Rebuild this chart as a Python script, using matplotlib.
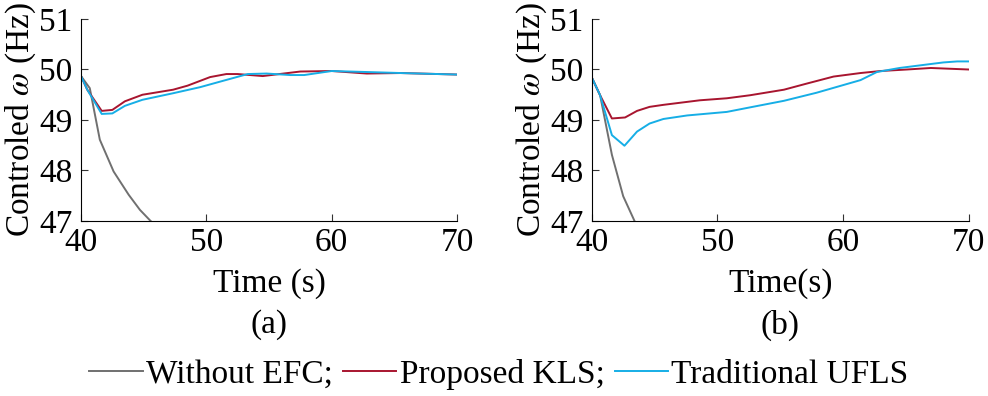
import numpy as np
import matplotlib.pyplot as plt

plt.rcParams["font.family"] = ["Liberation Serif", "DejaVu Serif"]
plt.rcParams["mathtext.fontset"] = "stix"

# panel (a)
t_none_a = [40.0, 40.7, 41.5, 42.6, 43.8, 44.7, 45.55, 46.5]
f_none_a = [49.87, 49.63, 48.61, 47.98, 47.52, 47.22, 47.0, 46.8]
t_kls_a = [40.0, 40.5, 41.65, 42.5, 43.5, 44.9, 47.35, 48.5, 50.3, 51.6, 52.5,
           54.5, 57.5, 60.0, 62.8, 65.5, 70.0]
f_kls_a = [49.87, 49.6, 49.18, 49.2, 49.37, 49.5, 49.6, 49.68, 49.85, 49.91, 49.91,
           49.87, 49.96, 49.97, 49.92, 49.93, 49.90]
t_ufls_a = [40.0, 40.5, 41.65, 42.5, 43.5, 44.9, 47.35, 49.5, 51.1, 53.3, 54.8,
            56.7, 57.8, 60.0, 62.8, 65.5, 70.0]
f_ufls_a = [49.87, 49.6, 49.12, 49.13, 49.28, 49.4, 49.53, 49.65, 49.76, 49.91, 49.92,
            49.89, 49.89, 49.97, 49.95, 49.93, 49.90]

# panel (b)
t_none_b = [40.0, 40.66, 41.6, 42.5, 43.4, 44.0]
f_none_b = [49.84, 49.49, 48.31, 47.49, 47.0, 46.7]
t_kls_b = [40.0, 40.66, 41.6, 42.65, 43.6, 44.6, 45.7, 48.6, 50.75, 52.6, 55.3,
           57.1, 59.25, 61.4, 63.0, 65.1, 67.0, 68.0, 70.0]
f_kls_b = [49.84, 49.49, 49.03, 49.05, 49.18, 49.26, 49.3, 49.39, 49.43, 49.49, 49.6,
           49.72, 49.86, 49.93, 49.97, 50.0, 50.03, 50.02, 50.0]
t_ufls_b = [40.0, 40.66, 41.6, 42.6, 43.6, 44.6, 45.7, 47.6, 50.75, 52.6, 55.3,
            57.9, 60.0, 61.4, 62.7, 64.5, 66.4, 68.0, 69.1, 70.0]
f_ufls_b = [49.84, 49.49, 48.70, 48.49, 48.77, 48.93, 49.02, 49.09, 49.16, 49.25, 49.38,
            49.54, 49.69, 49.79, 49.95, 50.03, 50.09, 50.14, 50.16, 50.16]

labels = ["Without EFC;", "Proposed KLS;", "Traditional UFLS"]
colors = ["#707070", "#a8152f", "#16aee6"]

fig = plt.figure(figsize=(9.88, 3.96), dpi=100)
ax1 = fig.add_axes([0.082, 0.442, 0.3806, 0.510])
ax2 = fig.add_axes([0.599, 0.442, 0.3813, 0.510])

panels = [
    (ax1, [(t_none_a, f_none_a), (t_kls_a, f_kls_a), (t_ufls_a, f_ufls_a)], "Time (s)", "(a)"),
    (ax2, [(t_none_b, f_none_b), (t_kls_b, f_kls_b), (t_ufls_b, f_ufls_b)], "Time(s)", "(b)"),
]

lines = []
for ax, series, xlab, tag in panels:
    lines = []
    for (t, f), c, lab in zip(series, colors, labels):
        ln, = ax.plot(t, f, color=c, lw=1.4, label=lab)
        lines.append(ln)
    ax.set_xlim(40, 70)
    ax.set_ylim(47, 51)
    ax.set_xticks([40, 50, 60, 70])
    ax.set_yticks([47, 48, 49, 50, 51])
    ax.spines["top"].set_visible(False)
    ax.spines["right"].set_visible(False)
    ax.tick_params(direction="in", labelsize=24, length=5, color="#333333")
    ax.tick_params(axis="x", pad=5)
    ax.tick_params(axis="y", pad=6)
    ax.set_xlabel(xlab, fontsize=24, labelpad=7)
    ax.set_ylabel(r"Controled $\omega$ (Hz)", fontsize=24, labelpad=1)
    ax.text(0.5, -0.515, tag, transform=ax.transAxes, ha="center", va="center", fontsize=24)

fig.legend(lines, labels, loc="center", bbox_to_anchor=(0.505, 0.055), ncol=3,
           frameon=False, fontsize=24, handlelength=1.6, handletextpad=0.1,
           columnspacing=0.3)

fig.savefig("out.png", dpi=100)
